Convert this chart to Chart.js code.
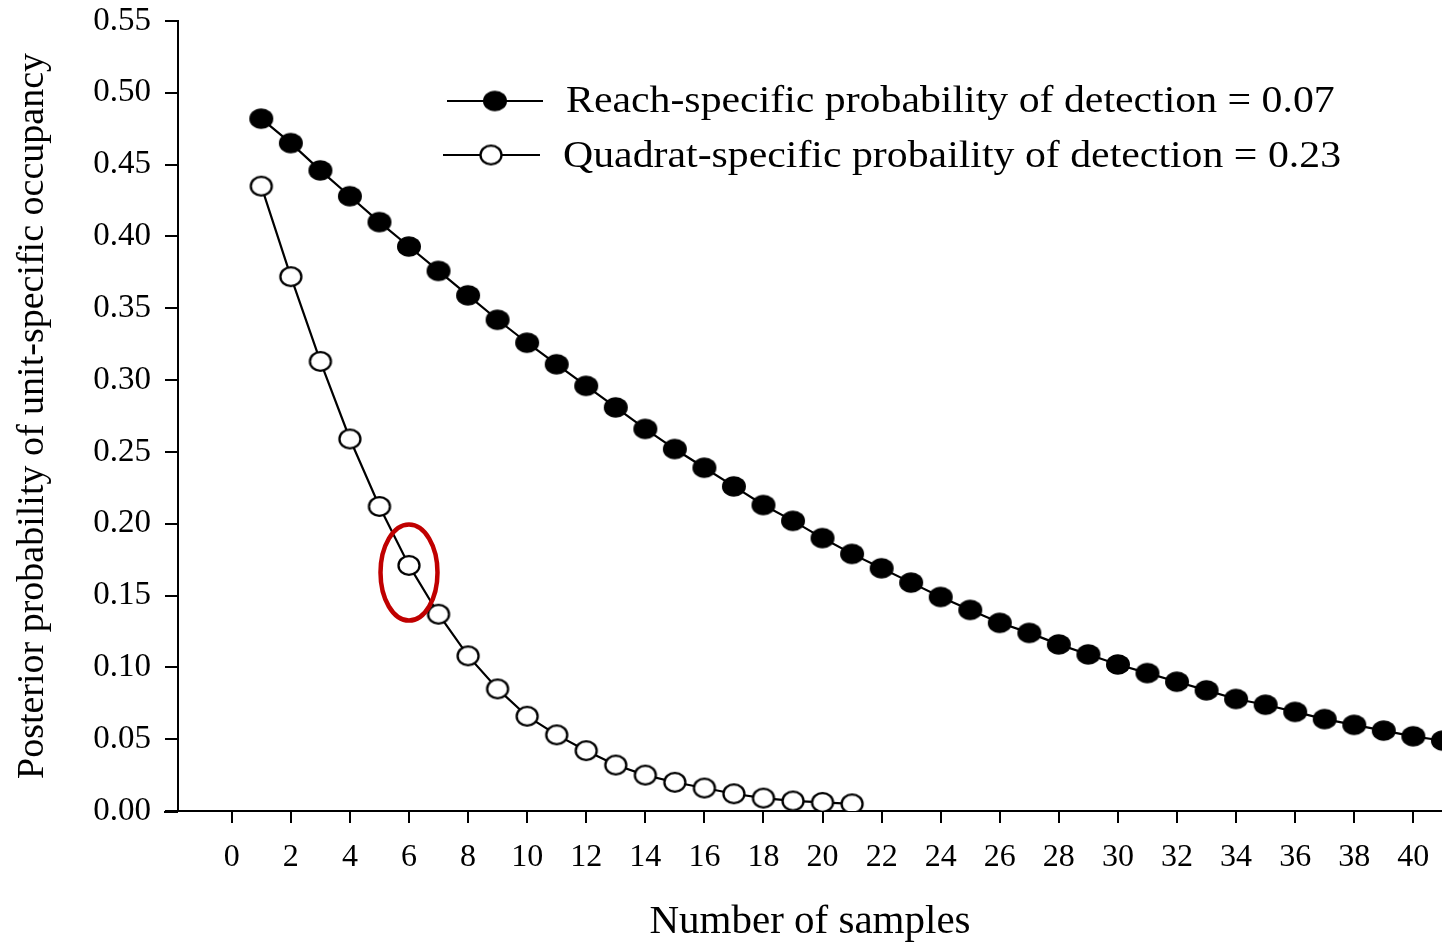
<!DOCTYPE html>
<html lang="en">

<head>
    <meta charset="UTF-8">
    <meta name="viewport" content="width=device-width, initial-scale=1.0">
    <title>Posterior probability of unit-specific occupancy</title>
    <script src="https://cdn.jsdelivr.net/npm/chart.js"></script>
    <style>
        html, body { margin: 0; padding: 0; background: #fff; overflow: hidden; }
        .graph { width: 1442px; height: 944px; position: relative; }
        canvas { display: block; }
    </style>
</head>

<body>
    <div class="graph">
        <canvas id="myChartCanvas"></canvas>
    </div>
</body>

</html>

<script>
    // number of samples on the x axis
    const reachSamples = [1, 2, 3, 4, 5, 6, 7, 8, 9, 10, 11, 12, 13, 14, 15, 16, 17, 18, 19, 20,
        21, 22, 23, 24, 25, 26, 27, 28, 29, 30, 31, 32, 33, 34, 35, 36, 37, 38, 39, 40, 41];
    const reachProb = [0.482, 0.465, 0.446, 0.428, 0.410, 0.393, 0.376, 0.359, 0.342, 0.326,
        0.311, 0.296, 0.281, 0.266, 0.252, 0.239, 0.226, 0.213, 0.202, 0.190,
        0.179, 0.169, 0.159, 0.149, 0.140, 0.131, 0.124, 0.116, 0.109, 0.102,
        0.096, 0.090, 0.084, 0.078, 0.074, 0.069, 0.064, 0.060, 0.056, 0.052, 0.049];

    const quadratSamples = [1, 2, 3, 4, 5, 6, 7, 8, 9, 10, 11, 12, 13, 14, 15, 16, 17, 18, 19, 20, 21];
    const quadratProb = [0.435, 0.372, 0.313, 0.259, 0.212, 0.171, 0.137, 0.108, 0.085, 0.066,
        0.053, 0.042, 0.032, 0.025, 0.020, 0.016, 0.012, 0.009, 0.007, 0.006, 0.005];

    const xTicks = [0, 2, 4, 6, 8, 10, 12, 14, 16, 18, 20, 22, 24, 26, 28, 30, 32, 34, 36, 38, 40];
    const yTicks = [0, 0.05, 0.10, 0.15, 0.20, 0.25, 0.30, 0.35, 0.40, 0.45, 0.50, 0.55];

    const seriesLabels = [
        'Reach-specific probability of detection = 0.07',
        'Quadrat-specific probaility of detection = 0.23'
    ];

    // the circled point (sample 6 of the quadrat curve)
    const highlightX = 6;
    const highlightY = 0.166;

    const fonte = 'Liberation Serif, Times New Roman, serif';

    // slightly wide ellipse markers, like the original figure
    function marcador(rx, ry, preenchimento, lw) {
        const c = document.createElement('canvas');
        c.width = Math.ceil(rx * 2 + lw + 2);
        c.height = Math.ceil(ry * 2 + lw + 2);
        const g = c.getContext('2d');
        g.beginPath();
        g.ellipse(c.width / 2, c.height / 2, rx, ry, 0, 0, Math.PI * 2);
        g.fillStyle = preenchimento;
        g.fill();
        if (lw) {
            g.lineWidth = lw;
            g.strokeStyle = '#000';
            g.stroke();
        }
        return c;
    }
    const pontoCheio = marcador(12, 10.3, '#000', 0);
    const pontoVazio = marcador(10.5, 9.3, '#fff', 2.3);

    // legend, red ellipse and the little stub of x axis left of the y axis
    const extras = {
        id: 'extras',
        afterDatasetsDraw(chart) {
            const { ctx, chartArea } = chart;
            const x = chart.scales.x;
            const y = chart.scales.y;
            ctx.save();

            ctx.strokeStyle = '#000';
            ctx.lineWidth = 2;
            ctx.beginPath();
            ctx.moveTo(chartArea.left - 14, chartArea.bottom + 1);
            ctx.lineTo(chartArea.left, chartArea.bottom + 1);
            ctx.stroke();

            ctx.strokeStyle = '#c00000';
            ctx.lineWidth = 4.5;
            ctx.beginPath();
            ctx.ellipse(x.getPixelForValue(highlightX), y.getPixelForValue(highlightY), 28.5, 48, 0, 0, Math.PI * 2);
            ctx.stroke();

            const linhas = [
                { x0: 447, x1: 543, y: 101, mx: 495, tx: 566, ty: 112, img: pontoCheio },
                { x0: 443, x1: 540, y: 155, mx: 491, tx: 563, ty: 167, img: pontoVazio }
            ];
            ctx.font = '38px ' + fonte;
            ctx.fillStyle = '#000';
            ctx.textBaseline = 'alphabetic';
            linhas.forEach((l, i) => {
                ctx.strokeStyle = '#000';
                ctx.lineWidth = 2;
                ctx.beginPath();
                ctx.moveTo(l.x0, l.y);
                ctx.lineTo(l.x1, l.y);
                ctx.stroke();
                ctx.drawImage(l.img, l.mx - l.img.width / 2, l.y - l.img.height / 2);
                ctx.save();
                ctx.translate(l.tx, l.ty);
                ctx.scale(1.1, 1);
                ctx.fillText(seriesLabels[i], 0, 0);
                ctx.restore();
            });

            ctx.restore();
        }
    };

    const dados = {
        datasets: [{
            label: seriesLabels[0],
            data: reachSamples.map((s, i) => ({ x: s, y: reachProb[i] })),
            borderColor: '#000',
            borderWidth: 2.2,
            pointStyle: pontoCheio,
            pointRadius: 12,
            fill: false,
            tension: 0
        }, {
            label: seriesLabels[1],
            data: quadratSamples.map((s, i) => ({ x: s, y: quadratProb[i] })),
            borderColor: '#000',
            borderWidth: 2.2,
            pointStyle: pontoVazio,
            pointRadius: 11,
            fill: false,
            tension: 0
        }]
    };

    const config = {
        type: 'line',
        data: dados,
        plugins: [extras],
        options: {
            responsive: true,
            maintainAspectRatio: false,
            animation: false,
            layout: { autoPadding: false, padding: { top: 21, right: 0, bottom: 0, left: 0 } },
            plugins: {
                legend: { display: false },
                tooltip: { enabled: false }
            },
            scales: {
                x: {
                    type: 'linear',
                    min: -1.82,
                    max: 40.97,
                    afterBuildTicks: s => { s.ticks = xTicks.map(v => ({ value: v })); },
                    afterFit: s => {
                        s.height = 133;
                        s.paddingLeft = 0;
                        s.paddingRight = 0;
                    },
                    ticks: {
                        color: '#000',
                        font: { family: fonte, size: 32 },
                        padding: 15,
                        autoSkip: false,
                        maxRotation: 0,
                        callback: v => String(v)
                    },
                    grid: { drawOnChartArea: false, tickLength: 12, color: '#000', lineWidth: 2 },
                    border: { color: '#000', width: 2 },
                    title: {
                        display: true,
                        text: 'Number of samples',
                        color: '#000',
                        font: { family: fonte, size: 41 },
                        padding: { top: 0, bottom: -3 }
                    }
                },
                y: {
                    min: 0,
                    max: 0.55,
                    afterBuildTicks: s => { s.ticks = yTicks.map(v => ({ value: v })); },
                    afterFit: s => {
                        s.width = 178;
                        s.paddingTop = 0;
                        s.paddingBottom = 0;
                    },
                    ticks: {
                        color: '#000',
                        font: { family: fonte, size: 33 },
                        padding: 14,
                        autoSkip: false,
                        callback: v => Number(v).toFixed(2)
                    },
                    grid: { drawOnChartArea: false, tickLength: 13, color: '#000', lineWidth: 2 },
                    border: { color: '#000', width: 2 },
                    title: {
                        display: true,
                        text: 'Posterior probability of unit-specific occupancy',
                        color: '#000',
                        font: { family: fonte, size: 38 },
                        padding: { top: 10, bottom: 0 }
                    }
                }
            }
        }
    };

    let myChart = new Chart(document.getElementById('myChartCanvas'), config);
</script>
